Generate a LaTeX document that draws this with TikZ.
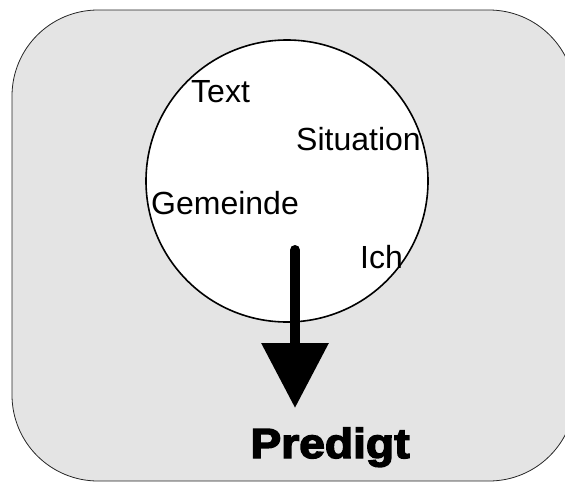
\documentclass[tikz,border=0pt]{standalone}
\usepackage{fontspec}
\setmainfont{Liberation Sans}
\newfontfamily\heavyfont[FakeStretch=1.1,FakeBold=3.5]{Liberation Sans Bold}
\usetikzlibrary{arrows.meta}
\definecolor{bgc}{RGB}{228,228,228}
\tikzset{
  word/.style={inner sep=0pt, anchor=base west, font=\fontsize{32}{38}\selectfont},
  panel/.style={draw=black!85, line width=0.8pt, fill=bgc, rounded corners=86pt},
  kreisstyle/.style={circle, draw=black, line width=1.6pt, fill=white, minimum size=282pt, inner sep=0pt},
  bigarrow/.style={line width=10pt, line cap=round, -{Triangle[length=65pt,width=65pt]}}
}
\begin{document}
\begin{tikzpicture}[x=1pt,y=-1pt]
\useasboundingbox (0,0) rectangle (565,482);
\begin{scope}
\clip (0,0) rectangle (565,482);
\draw[panel] (12,10) rectangle (575,481);
\end{scope}
\node[kreisstyle] (kreis) at (287,181) {};
\node[word] (text) at (191,102) {Text};
\node[word] (situation) at (296,150) {Situation};
\node[word] (gemeinde) at (151,214) {Gemeinde};
\node[word] (ich) at (360,268) {Ich};
\coordinate (start) at (295,250);
\node[inner sep=0pt, anchor=base, font=\heavyfont\fontsize{42}{48}\selectfont] (predigt) at (330,458) {Predigt};
\coordinate (tip) at (295,408);
\draw[bigarrow] (start) -- (tip);
\end{tikzpicture}
\end{document}
